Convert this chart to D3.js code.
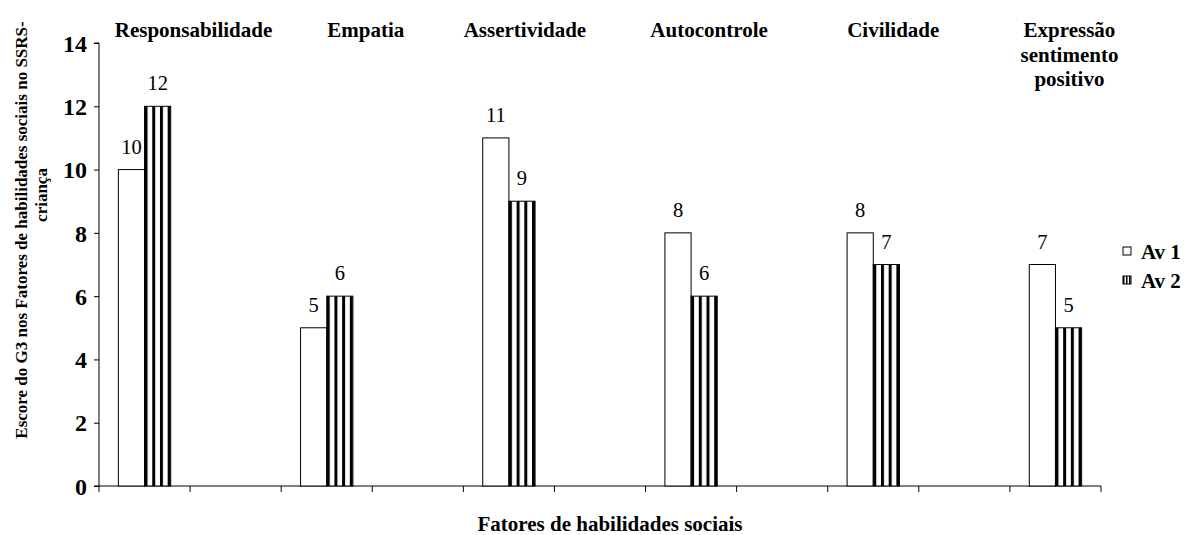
<!DOCTYPE html>
<html><head><meta charset="utf-8">
<script src="https://cdn.jsdelivr.net/npm/d3@7"></script>
<style>
html,body{margin:0;padding:0;background:#fff;}
svg{display:block;}
svg text{font-family:"Times New Roman","Liberation Serif",Tinos,"Noto Serif",serif;}
</style></head>
<body><svg id="c" width="1185" height="535"></svg>
<script>
// ---- data ----
const categories = [["Responsabilidade"], ["Empatia"], ["Assertividade"], ["Autocontrole"], ["Civilidade"], ["Expressão","sentimento","positivo"]];
const series = ["Av 1", "Av 2"];
const av1 = [10, 5, 11, 8, 8, 7];
const av2 = [12, 6, 9, 6, 7, 5];
const yTicks = [0, 2, 4, 6, 8, 10, 12, 14];
const yTitle = ["Escore do G3 nos Fatores de habilidades sociais no SSRS-", "criança"];
const xTitle = "Fatores de habilidades sociais";

// ---- layout ----
const svg = d3.select("#c");
const x0 = 99, x1 = 1101, yTop = 43, yBot = 486;
const nSlots = 11;
const slot = d3.scaleBand().domain(d3.range(nSlots)).range([x0, x1]).padding(0);
const inner = d3.scaleBand().domain(series).range([0, slot.bandwidth()]).paddingInner(0).paddingOuter(0.74);
const y = d3.scaleLinear().domain([0, 14]).range([yBot, yTop]);
const labelDx = [49, 39, 16, 18, 20, 14];

const defs = svg.append("defs");
function stripePattern(id, ox) {
  const p = defs.append("pattern").attr("id", id).attr("patternUnits", "userSpaceOnUse")
    .attr("x", ox).attr("y", 0).attr("width", 7.7).attr("height", 10);
  p.append("rect").attr("width", 7.7).attr("height", 10).attr("fill", "#fff");
  p.append("rect").attr("width", 3).attr("height", 10).attr("fill", "#000");
}

const rows = categories.map((c, i) => ({ name: c, slot: i * 2, values: [av1[i], av2[i]] }));

// axes
const gy = svg.append("g").attr("transform", `translate(${x0},0)`)
  .call(d3.axisLeft(y).tickValues(yTicks).tickSize(5).tickPadding(7).tickFormat(d3.format("d")));
gy.attr("font-family", null);
gy.select(".domain").attr("stroke", "#000").attr("d", `M-5,${yTop}H0V${yBot}H-5`);
gy.selectAll("text").attr("font-size", 24).attr("font-weight", "bold").attr("fill", "#000").attr("dy", "0.34em");

const tickPos = d3.range(nSlots + 1).map(k => x0 + k * slot.step());
const gx = svg.append("g");
gx.append("line").attr("x1", x0).attr("x2", x1).attr("y1", yBot).attr("y2", yBot).attr("stroke", "#000");
gx.selectAll("line.t").data(tickPos).join("line").attr("class", "t")
  .attr("x1", d => d).attr("x2", d => d).attr("y1", yBot).attr("y2", yBot + 6).attr("stroke", "#000");

// bars
rows.forEach((r, i) => {
  const gx0 = slot(r.slot);
  series.forEach((s, j) => {
    const bx = gx0 + inner(s), bw = inner.bandwidth();
    const v = r.values[j];
    let fill = "#fff";
    if (j === 1) { const id = "st" + i; stripePattern(id, bx); fill = `url(#${id})`; }
    svg.append("rect").attr("x", bx).attr("y", y(v)).attr("width", bw).attr("height", y(0) - y(v))
      .attr("fill", fill).attr("stroke", "#000").attr("stroke-width", 1);
    svg.append("text").attr("x", bx + bw / 2).attr("y", y(v) - 16).attr("text-anchor", "middle")
      .attr("font-size", 20.5).attr("fill", "#000").text(v);
  });
  const cx = gx0 + slot.bandwidth() / 2 + labelDx[i];
  const t = svg.append("text").attr("text-anchor", "middle").attr("font-size", 21).attr("font-weight", "bold").attr("fill", "#000");
  r.name.forEach((ln, k) => t.append("tspan").attr("x", cx).attr("y", 37 + k * 24.5).text(ln));
});

// axis titles
svg.append("text").attr("transform", "translate(27,230) rotate(-90)").attr("text-anchor", "middle")
  .attr("font-size", 17).attr("font-weight", "bold").text(yTitle[0]);
svg.append("text").attr("transform", "translate(47,195) rotate(-90)").attr("text-anchor", "middle")
  .attr("font-size", 17).attr("font-weight", "bold").text(yTitle[1]);
svg.append("text").attr("x", 610).attr("y", 531).attr("text-anchor", "middle")
  .attr("font-size", 21).attr("font-weight", "bold").text(xTitle);

// legend
const lg = svg.append("g");
series.forEach((s, j) => {
  const ly = 247 + j * 29;
  let fill = "#fff";
  if (j === 1) {
    const p = defs.append("pattern").attr("id", "lgp").attr("patternUnits", "userSpaceOnUse")
      .attr("x", 1123).attr("y", 0).attr("width", 3).attr("height", 10);
    p.append("rect").attr("width", 3).attr("height", 10).attr("fill", "#fff");
    p.append("rect").attr("width", 1.5).attr("height", 10).attr("fill", "#000");
    fill = "url(#lgp)";
  }
  lg.append("rect").attr("x", 1123).attr("y", ly).attr("width", 8).attr("height", 8)
    .attr("fill", fill).attr("stroke", "#000").attr("stroke-width", 1);
  lg.append("text").attr("x", 1141).attr("y", ly + 12).attr("font-size", 21).attr("font-weight", "bold").text(s);
});
</script></body></html>
